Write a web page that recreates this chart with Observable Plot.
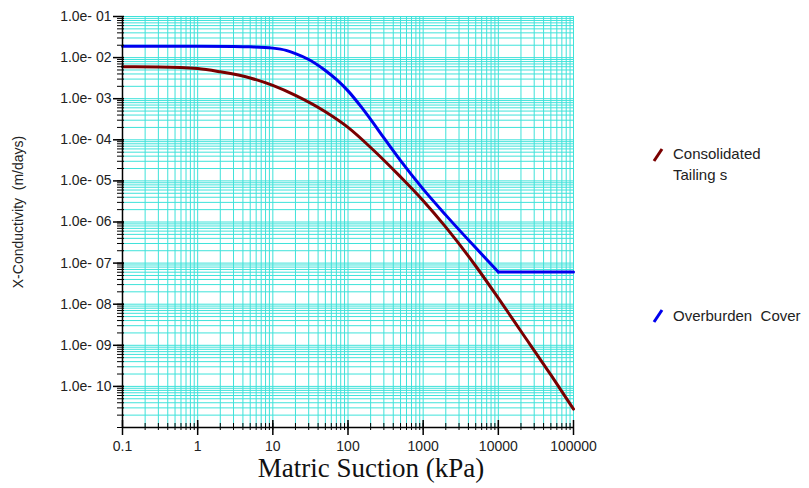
<!DOCTYPE html>
<html>
<head>
<meta charset="utf-8">
<script src="https://cdn.jsdelivr.net/npm/d3@7"></script>
<script src="https://cdn.jsdelivr.net/npm/@observablehq/plot@0.6"></script>
<style>
  html, body { margin: 0; padding: 0; background: #fff; }
  #chart { position: relative; width: 809px; height: 488px; }
  svg { font-family: "Liberation Sans", Arial, sans-serif; }
</style>
</head>
<body>
<div id="chart"></div>
<script>
// ---- data ----
const seriesNames = ["Consolidated", "Tailing s", "Overburden  Cover"];
const tailingsSuction = [0.1, 0.3, 1, 2, 5, 10, 20, 50, 100, 200, 500, 1000, 2000, 5000, 10000, 20000, 50000, 100000];
const tailingsK = [6.0e-3, 5.9e-3, 5.4e-3, 4.5e-3, 3.2e-3, 2.1e-3, 1.2e-3, 4.8e-4, 2.0e-4, 6.5e-5, 1.25e-5, 3.3e-6, 7.5e-7, 8.5e-8, 1.4e-8, 2.2e-9, 1.9e-10, 2.8e-11];
const coverSuction = [0.1, 1, 3, 5, 10, 15, 20, 30, 50, 70, 100, 150, 200, 300, 500, 1000, 2000, 5000, 10000];
const coverK = [1.9e-2, 1.9e-2, 1.87e-2, 1.83e-2, 1.7e-2, 1.5e-2, 1.25e-2, 9.0e-3, 4.86e-3, 2.94e-3, 1.55e-3, 6.3e-4, 3.13e-4, 1.11e-4, 3.1e-5, 6.3e-6, 1.47e-6, 2.35e-7, 6.1e-8];
const coverTailSuction = [10000, 100000];
const coverTailK = [6.1e-8, 6.1e-8];
const xTickValues = [0.1, 1, 10, 100, 1000, 10000, 100000];
const xTickLabels = ["0.1", "1", "10", "100", "1000", "10000", "100000"];
const yTickValues = [1e-1, 1e-2, 1e-3, 1e-4, 1e-5, 1e-6, 1e-7, 1e-8, 1e-9, 1e-10];
const yTickLabels = ["1.0e- 01", "1.0e- 02", "1.0e- 03", "1.0e- 04", "1.0e- 05", "1.0e- 06", "1.0e- 07", "1.0e- 08", "1.0e- 09", "1.0e- 10"];
const xLabel = "Matric Suction (kPa)";
const yLabel = "X-Conductivity  (m/days)";
const colors = ["#7a0000", "#0000ee"];

// ---- derived tables ----
const tailings = tailingsSuction.map((x, i) => ({x, y: tailingsK[i]}));
const cover = coverSuction.map((x, i) => ({x, y: coverK[i]}));
const coverTail = coverTailSuction.map((x, i) => ({x, y: coverTailK[i]}));

const xMinor = [];
for (let e = -1; e <= 4; e++) for (let k = 1; k <= 9; k++) xMinor.push(k * Math.pow(10, e));
xMinor.push(1e5);
const yMinor = [];
for (let e = -11; e <= -2; e++) for (let k = 1; k <= 9; k++) yMinor.push(k * Math.pow(10, e));
yMinor.push(1e-1);

const xLab = new Map(xTickValues.map((v, i) => [v, xTickLabels[i]]));
const yLab = new Map(yTickValues.map((v, i) => [v, yTickLabels[i]]));

const gridColor = "#3fe2da";

const chart = Plot.plot({
  width: 809,
  height: 488,
  marginLeft: 122,
  marginRight: 236,
  marginTop: 16,
  marginBottom: 61,
  style: {fontFamily: "'Liberation Sans', Arial, sans-serif", background: "#fff", overflow: "visible"},
  x: {type: "log", domain: [0.1, 100000]},
  y: {type: "log", domain: [1e-11, 1e-1]},
  marks: [
    Plot.ruleX(xMinor, {stroke: gridColor, strokeWidth: 1}),
    Plot.ruleY(yMinor, {stroke: gridColor, strokeWidth: 1}),
    Plot.line(tailings, {x: "x", y: "y", stroke: colors[0], strokeWidth: 3, curve: "monotone-x"}),
    Plot.line(cover, {x: "x", y: "y", stroke: colors[1], strokeWidth: 3, curve: "monotone-x"}),
    Plot.line(coverTail, {x: "x", y: "y", stroke: colors[1], strokeWidth: 3}),
    Plot.ruleX([0.1], {stroke: "#000", strokeWidth: 1.5}),
    Plot.ruleY([1e-11], {stroke: "#000", strokeWidth: 1.5}),
    // y axis: labels, major ticks, minor ticks
    Plot.axisY({ticks: yTickValues, tickFormat: d => yLab.get(d), tickSize: 0, tickPadding: 11, fontSize: 14, fill: "#222", label: null}),
    Plot.axisY({ticks: yTickValues, tickFormat: () => "", tickSize: 11, dx: 2, strokeWidth: 1.5, label: null}),
    Plot.axisY({ticks: yMinor, tickFormat: () => "", tickSize: 7, dx: 2, label: null}),
    // x axis: labels, major ticks, minor ticks
    Plot.axisX({ticks: xTickValues, tickFormat: d => xLab.get(d), tickSize: 0, tickPadding: 14, fontSize: 14, fill: "#222", label: null}),
    Plot.axisX({ticks: xTickValues, tickFormat: () => "", tickSize: 15, dy: -7, strokeWidth: 1.5, label: null}),
    Plot.axisX({ticks: xMinor, tickFormat: () => "", tickSize: 7, dy: -4, label: null})
  ]
});

document.getElementById("chart").appendChild(chart);

// axis titles and legend
const svg = d3.select(chart);
svg.append("text")
  .attr("x", 371).attr("y", 477)
  .attr("text-anchor", "middle")
  .attr("font-family", "'Liberation Serif', 'Times New Roman', serif")
  .attr("font-size", 27).attr("fill", "#111")
  .text(xLabel);
svg.append("text")
  .attr("transform", "translate(23,212) rotate(-90)")
  .attr("text-anchor", "middle")
  .attr("font-size", 14).attr("fill", "#222")
  .style("white-space", "pre")
  .text(yLabel);

const legend = svg.append("g").attr("text-anchor", "start");
function slash(y, color) {
  legend.append("line")
    .attr("x1", 654).attr("y1", y + 6).attr("x2", 662).attr("y2", y - 6)
    .attr("stroke", color).attr("stroke-width", 3);
}
function label(y, s) {
  legend.append("text").attr("x", 673).attr("y", y)
    .attr("text-anchor", "start").attr("font-size", 15).attr("fill", "#222")
    .style("white-space", "pre").text(s);
}
slash(155, colors[0]);
label(159, seriesNames[0]);
label(180, seriesNames[1]);
slash(316, colors[1]);
label(321, seriesNames[2]);
</script>
</body>
</html>
